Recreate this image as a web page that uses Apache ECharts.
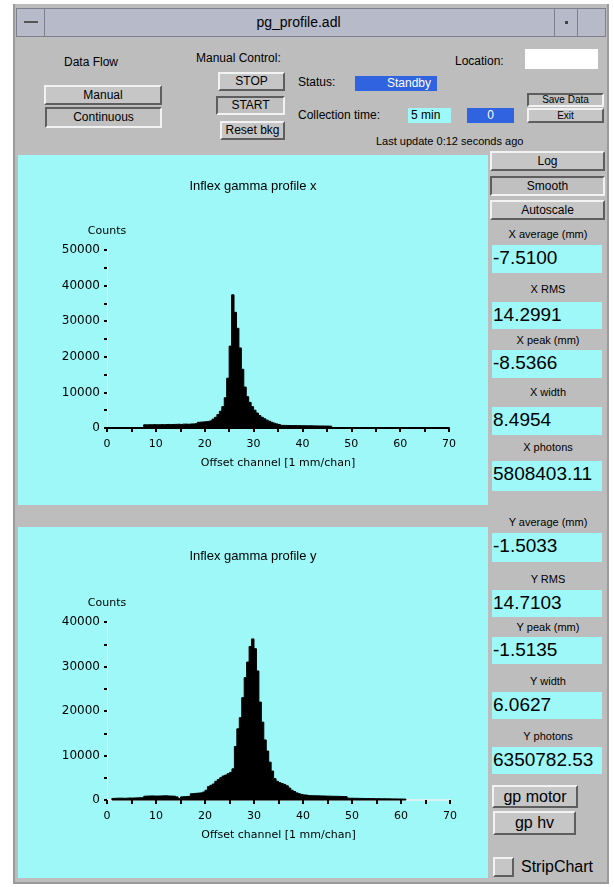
<!DOCTYPE html>
<html>
<head>
<meta charset="utf-8">
<script src="https://cdn.jsdelivr.net/npm/echarts@6/dist/echarts.min.js"></script>
<style>
  html, body { margin: 0; padding: 0; background: #ffffff; }
  body { width: 614px; height: 887px; position: relative; overflow: hidden;
         font-family: "Liberation Sans", "DejaVu Sans", sans-serif; color: #000; }
  .abs { position: absolute; box-sizing: border-box; }
  #win { left: 13px; top: 4px; width: 596px; height: 880px; background: #bdbdbd;
         border-left: 2px solid #9a9a9a; border-right: 2px solid #9a9a9a; border-bottom: 2px solid #9a9a9a; }
  .bar { background: #b7bac8; border: 1px solid #7c7f8c; }
  .lbl { font-size: 12px; white-space: nowrap; }
  .btn { background: #c6c6c6; border: 2px solid; border-color: #f2f2f2 #5e5e5e #5e5e5e #f2f2f2;
         font-size: 12px; text-align: center; white-space: nowrap; }
  .pressed { border-color: #5e5e5e #f2f2f2 #f2f2f2 #5e5e5e; background: #c0c0c0; }
  .val { background: #9ef8f8; font-size: 19px; line-height: 26px; padding-left: 1px; white-space: nowrap; overflow: hidden; }
  .cap { font-size: 11px; text-align: center; width: 118px; left: 489px; white-space: nowrap; }
  .blue { background: #2f63df; color: #ffffff; font-size: 12px; }
</style>
</head>
<body>
<div id="win" class="abs"></div>

<!-- title bar -->
<div class="abs bar" style="left:16px;top:8px;width:590px;height:29px;"></div>
<div class="abs" style="left:17px;top:9px;width:28px;height:27px;border-right:1px solid #7c7f8c;"></div>
<div class="abs" style="left:24px;top:21px;width:14px;height:2px;background:#555;"></div>
<div class="abs lbl" style="left:16px;top:14px;width:565px;text-align:center;font-size:14px;">pg_profile.adl</div>
<div class="abs" style="left:554px;top:9px;width:24px;height:27px;border-left:1px solid #7c7f8c;border-right:1px solid #7c7f8c;"></div>
<div class="abs" style="left:565px;top:21px;width:3px;height:3px;background:#444;"></div>

<!-- data flow controls -->
<div class="abs lbl" style="left:64px;top:55px;">Data Flow</div>
<div class="abs btn" style="left:44px;top:85px;width:118px;height:20px;line-height:16px;">Manual</div>
<div class="abs btn pressed" style="left:45px;top:107px;width:117px;height:21px;line-height:17px;">Continuous</div>

<div class="abs lbl" style="left:196px;top:51px;">Manual Control:</div>
<div class="abs btn" style="left:218px;top:72px;width:67px;height:19px;line-height:15px;">STOP</div>
<div class="abs btn pressed" style="left:216px;top:96px;width:69px;height:19px;line-height:15px;">START</div>
<div class="abs btn" style="left:220px;top:121px;width:65px;height:19px;line-height:15px;">Reset bkg</div>

<div class="abs lbl" style="left:298px;top:75px;">Status:</div>
<div class="abs blue" style="left:355px;top:76px;width:82px;height:15px;line-height:15px;text-align:right;padding-right:6px;">Standby</div>

<div class="abs lbl" style="left:455px;top:54px;">Location:</div>
<div class="abs" style="left:525px;top:49px;width:73px;height:20px;background:#ffffff;"></div>

<div class="abs lbl" style="left:298px;top:108px;">Collection time:</div>
<div class="abs" style="left:408px;top:108px;width:43px;height:15px;background:#9ef8f8;font-size:12px;line-height:15px;padding-left:3px;">5 min</div>
<div class="abs blue" style="left:467px;top:108px;width:47px;height:15px;line-height:15px;text-align:center;">0</div>

<div class="abs btn pressed" style="left:527px;top:93px;width:77px;height:14px;line-height:10px;font-size:10px;">Save Data</div>
<div class="abs btn" style="left:527px;top:108px;width:77px;height:15px;line-height:11px;font-size:10px;">Exit</div>
<div class="abs lbl" style="left:376px;top:135px;font-size:11px;">Last update 0:12 seconds ago</div>

<!-- chart panels -->
<div id="chartX" class="abs" style="left:18px;top:155px;width:470px;height:350px;"></div>
<div id="chartY" class="abs" style="left:18px;top:527px;width:470px;height:351px;"></div>

<!-- right column -->
<div class="abs btn" style="left:490px;top:151px;width:115px;height:20px;line-height:16px;">Log</div>
<div class="abs btn pressed" style="left:490px;top:176px;width:115px;height:20px;line-height:16px;">Smooth</div>
<div class="abs btn" style="left:490px;top:200px;width:115px;height:20px;line-height:16px;">Autoscale</div>

<div class="abs cap" style="top:228px;">X average (mm)</div>
<div class="abs val" style="left:492px;top:245px;width:110px;height:28px;">-7.5100</div>
<div class="abs cap" style="top:283px;">X RMS</div>
<div class="abs val" style="left:492px;top:302px;width:110px;height:27px;">14.2991</div>
<div class="abs cap" style="top:334px;">X peak (mm)</div>
<div class="abs val" style="left:492px;top:350px;width:110px;height:28px;">-8.5366</div>
<div class="abs cap" style="top:386px;">X width</div>
<div class="abs val" style="left:492px;top:407px;width:110px;height:28px;">8.4954</div>
<div class="abs cap" style="top:441px;">X photons</div>
<div class="abs val" style="left:492px;top:461px;width:110px;height:30px;">5808403.11</div>

<div class="abs cap" style="top:516px;">Y average (mm)</div>
<div class="abs val" style="left:492px;top:533px;width:110px;height:29px;">-1.5033</div>
<div class="abs cap" style="top:573px;">Y RMS</div>
<div class="abs val" style="left:492px;top:590px;width:110px;height:27px;">14.7103</div>
<div class="abs cap" style="top:621px;">Y peak (mm)</div>
<div class="abs val" style="left:492px;top:637px;width:110px;height:27px;">-1.5135</div>
<div class="abs cap" style="top:675px;">Y width</div>
<div class="abs val" style="left:492px;top:692px;width:110px;height:27px;">6.0627</div>
<div class="abs cap" style="top:730px;">Y photons</div>
<div class="abs val" style="left:492px;top:747px;width:110px;height:27px;">6350782.53</div>

<div class="abs btn" style="left:492px;top:785px;width:86px;height:23px;line-height:19px;font-size:16px;">gp motor</div>
<div class="abs btn" style="left:493px;top:811px;width:83px;height:24px;line-height:20px;font-size:16px;">gp hv</div>
<div class="abs btn" style="left:493px;top:857px;width:21px;height:20px;"></div>
<div class="abs" style="left:521px;top:857px;font-size:16px;line-height:20px;white-space:nowrap;">StripChart</div>

<script>
// Horizontal profile: counts per 0.5 mm channel, first channel starts at 7.5
const binWidth = 0.5;
const xProfileStart = 7.5;
const xProfileCounts = [
  900, 880, 920, 900, 950, 900, 930, 960, 940, 980, 1000, 960, 1000, 1020, 1050, 1000, 1080, 1100, 1050, 1120, 1150, 1200,
  1600, 1650, 1700, 1750, 1850, 2000,
  2500, 3000, 3800, 4700, 6000, 8500, 14000, 23000, 37400, 32500, 28000, 22500, 16500, 11500,
  8800, 7200, 6000, 5000, 4200, 3500, 3000, 2600, 2200, 1900, 1600, 1350, 1150, 1000,
  750, 730, 720, 700, 690, 680, 670, 660, 650, 640, 630, 620, 610, 600, 590, 580, 570, 560, 550, 540, 520
];

// Vertical profile: counts per 0.5 mm channel, first channel starts at 1
const yProfileStart = 1;
const yProfileCounts = [
  350, 380, 400, 420, 400, 380, 420, 450, 430, 460, 480, 500, 520,
  850, 880, 900, 920, 900, 880, 900, 920, 950, 930, 900, 880, 860, 700,
  300,
  700, 750, 780, 800,
  1400, 1450, 1500, 1550, 1600, 1800,
  2200, 3000, 3300, 3600, 4200, 4600, 5000, 5400, 5600, 5900, 6200, 7000,
  12000, 16000, 18500, 23000, 27500, 31000, 34500, 36200, 34000, 29000, 22000, 17500,
  13500, 11000, 8500, 6500, 4800, 4200, 3900, 3700, 3500, 3200, 2700, 2200, 1900, 1600, 1400, 1250, 1150, 1100,
  1000, 980, 960, 950, 930, 920, 900, 880, 870, 850, 840, 830, 820, 800, 780, 760,
  420, 400, 390, 380, 370, 360, 350, 340, 330, 320, 310, 300, 300, 290, 280, 280, 270, 260, 250, 250, 240, 230, 220, 200
];

const xAxisTicks = [0, 10, 20, 30, 40, 50, 60, 70];
const titles = ['Inflex gamma profile x', 'Inflex gamma profile y'];
const xAxisName = 'Offset channel [1 mm/chan]';
const yAxisName = 'Counts';

// One record per channel: [left edge, right edge, count]
function channelData(start, counts) {
  return counts.map((c, i) => [start + i * binWidth, start + (i + 1) * binWidth, c]);
}

// The whole histogram is one filled outline, so neighbouring channels never leave seams.
// It is emitted with the first channel; every corner goes through the axis scales.
function makeRenderer(channels) {
  return function (params, api) {
    if (params.dataIndex !== 0) return null;
    const pts = [api.coord([channels[0][0], 0])];
    channels.forEach(ch => {
      pts.push(api.coord([ch[0], ch[2]]));
      pts.push(api.coord([ch[1], ch[2]]));
    });
    pts.push(api.coord([channels[channels.length - 1][1], 0]));
    return {
      type: 'polygon',
      shape: { points: pts },
      style: { fill: '#000', stroke: '#000', lineWidth: 1 }
    };
  };
}

const panelCyan = '#9ef8f8';
const labelFont = { fontFamily: 'DejaVu Sans', color: '#000' };

function profileOption(title, start, counts, yMax, xLineColor, gridTop, gridBottom, right) {
  const channels = channelData(start, counts);
  return {
    backgroundColor: panelCyan,
    animation: false,
    title: {
      text: title, left: 'center', top: 20,
      textStyle: { fontFamily: 'Liberation Sans', fontSize: 13, fontWeight: 'normal', color: '#000' }
    },
    grid: { left: 89, right: right, top: gridTop, bottom: gridBottom },
    xAxis: {
      type: 'value', min: xAxisTicks[0], max: xAxisTicks[xAxisTicks.length - 1], interval: 10,
      name: xAxisName, nameLocation: 'middle', nameGap: 30,
      nameTextStyle: { fontFamily: 'DejaVu Sans', fontSize: 11, color: '#000' },
      axisLine: { onZero: false, lineStyle: { color: xLineColor, width: 2 } },
      axisTick: { show: true, length: 4, lineStyle: { color: '#000', width: 2 } },
      minorTick: { show: true, splitNumber: 2, length: 4, lineStyle: { color: '#000', width: 2 } },
      axisLabel: Object.assign({ fontSize: 11, margin: 11 }, labelFont),
      splitLine: { show: false }
    },
    yAxis: {
      type: 'value', min: 0, max: yMax, interval: 10000,
      name: yAxisName, nameLocation: 'end', nameGap: 13,
      nameTextStyle: { fontFamily: 'DejaVu Sans', fontSize: 11, color: '#000', align: 'center' },
      axisLine: { show: true, lineStyle: { color: '#e4ffff', width: 1 } },
      axisTick: { show: true, length: 3, lineStyle: { color: '#000', width: 2 } },
      minorTick: { show: true, splitNumber: 2, length: 3, lineStyle: { color: '#000', width: 2 } },
      axisLabel: Object.assign({ fontSize: 12, margin: 7, formatter: v => String(v) }, labelFont),
      splitLine: { show: false }
    },
    series: [{
      type: 'custom',
      renderItem: makeRenderer(channels),
      encode: { x: [0, 1], y: 2 },
      data: channels,
      silent: true,
      z: 3
    }]
  };
}

const cx = echarts.init(document.getElementById('chartX'), null, { renderer: 'canvas' });
cx.setOption(profileOption(titles[0], xProfileStart, xProfileCounts, 50000, '#000', 95, 77, 39));

const cy = echarts.init(document.getElementById('chartY'), null, { renderer: 'canvas' });
const optY = profileOption(titles[1], yProfileStart, yProfileCounts, 40000, '#d9f2f2', 95, 78, 38);
optY.title.top = 18;
cy.setOption(optY);
</script>
</body>
</html>
